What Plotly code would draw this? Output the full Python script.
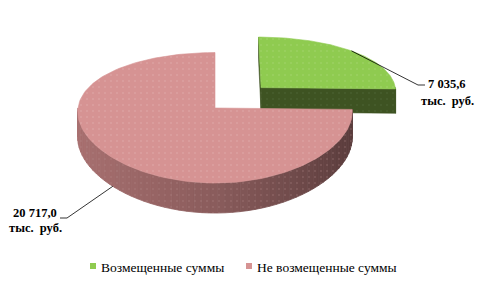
import math
import plotly.graph_objects as go

# ---- data ----
categories = ["Возмещенные суммы", "Не возмещенные суммы"]
values = [7035.6, 20717.0]
unit_label = "тыс.  руб."

# ---- styles ----
top_colors = ["#8FCB50", "#D69393"]
dot_colors = ["#B4DD8C", "#E8BDBC"]
cut_colors = ["#3E5322", "#6A4545"]
wall_dots = ["#5E7446", "#B58C8C"]
wall_stops = {0: [(0.0, "#4A6329"), (1.0, "#3E5322")],
              1: [(0.0, "#A87070"), (0.5, "#8A5C5C"), (1.0, "#5A3C3C")]}
explode = [0.48, 0.0]
W, H = 478, 287
SERIF = "Liberation Serif, Times New Roman, serif"

# projection (pixel space) for a tilted 3D pie
CX, CY, AX, BZ, TH, K, KX = 215.0, 133.5, 137.0, 67.6, 25.5, 0.15, 0.06


def proj(X, Z, Y):
    return CX + AX * X / (1 + KX * Z), CY - (BZ * Z + TH * Y) / (1 + K * Z)


def hex2rgb(h):
    h = h.lstrip("#")
    return [int(h[i:i + 2], 16) for i in (0, 2, 4)]


def grad(stops, t):
    for (t0, c0), (t1, c1) in zip(stops[:-1], stops[1:]):
        if t <= t1 or (t1 == stops[-1][0]):
            u = 0 if t1 == t0 else min(max((t - t0) / (t1 - t0), 0), 1)
            a, b = hex2rgb(c0), hex2rgb(c1)
            return "rgb(%d,%d,%d)" % tuple(round(a[i] + (b[i] - a[i]) * u) for i in range(3))
    return stops[-1][1]


def fmt(v):
    return f"{v:,.1f}".replace(",", " ").replace(".", ",")


def dots(col):
    return dict(shape=".", size=6, solidity=0.06, fgcolor=col, bgcolor="rgba(0,0,0,0)")


fig = go.Figure()
total = sum(values)
slices = []
a = 90.0
for i, v in enumerate(values):
    a1 = a - 360.0 * v / total
    mid = (a + a1) / 2
    ox = explode[i] * math.cos(math.radians(mid))
    oz = explode[i] * math.sin(math.radians(mid))
    slices.append((a, a1, mid, ox, oz))
    a = a1


def arc(a0, a1, ox, oz, Y, n=120):
    pts = []
    for j in range(n + 1):
        t = math.radians(a0 + (a1 - a0) * j / n)
        pts.append(proj(ox + math.cos(t), oz + math.sin(t), Y))
    return pts


def add_poly(pts, color, dotcol=None, line_w=0.6):
    xs = [p[0] for p in pts] + [pts[0][0]]
    ys = [p[1] for p in pts] + [pts[0][1]]
    fig.add_trace(go.Scatter(x=xs, y=ys, mode="lines", fill="toself", fillcolor=color,
                             line=dict(color=color, width=line_w), hoverinfo="skip",
                             showlegend=False))
    if dotcol:
        fig.add_trace(go.Scatter(x=xs, y=ys, mode="lines", fill="toself",
                                 fillcolor="rgba(0,0,0,0)", fillpattern=dots(dotcol),
                                 line=dict(width=0), hoverinfo="skip", showlegend=False))


# draw back slice (exploded green) first, then front slice
for i in range(len(values)):
    a0, a1, mid, ox, oz = slices[i]
    # cut faces
    for ang, nrm in ((a0, a0 + 90), (a1, a1 - 90)):
        if math.sin(math.radians(nrm)) < -1e-3 or (abs(math.sin(math.radians(nrm))) < 1e-3 and math.cos(math.radians(nrm)) * ox < 0):
            c = (ox, oz)
            r = (ox + math.cos(math.radians(ang)), oz + math.sin(math.radians(ang)))
            pts = [proj(c[0], c[1], 1), proj(r[0], r[1], 1), proj(r[0], r[1], 0), proj(c[0], c[1], 0)]
            add_poly(pts, cut_colors[i], wall_dots[i])
    # outer wall, front-facing part only (sin < 0), in strips for shading
    lo, hi = min(a0, a1), max(a0, a1)
    ranges = []
    for k0 in range(-2, 2):
        s0, s1 = max(lo, -180 + 360 * k0), min(hi, 0 + 360 * k0)
        if s1 > s0:
            ranges.append((s0, s1))
    for s0, s1 in ranges:
        nstr = max(1, int((s1 - s0) / 3))
        for j in range(nstr):
            b0 = s0 + (s1 - s0) * j / nstr
            b1 = s0 + (s1 - s0) * (j + 1) / nstr
            t = (math.cos(math.radians((b0 + b1) / 2)) + 1) / 2
            col = grad(wall_stops[i], t)
            top = arc(b0, b1, ox, oz, 1, 6)
            bot = arc(b1, b0, ox, oz, 0, 6)
            add_poly(top + bot, col, None, line_w=0.8)
        top = arc(s0, s1, ox, oz, 1, 80)
        bot = arc(s1, s0, ox, oz, 0, 80)
        xs = [p[0] for p in top + bot] + [top[0][0]]
        ys = [p[1] for p in top + bot] + [top[0][1]]
        fig.add_trace(go.Scatter(x=xs, y=ys, mode="lines", fill="toself",
                                 fillcolor="rgba(0,0,0,0)", fillpattern=dots(wall_dots[i]),
                                 line=dict(width=0), hoverinfo="skip", showlegend=False))
    # top face
    pts = [proj(ox, oz, 1)] + arc(a0, a1, ox, oz, 1, 160)
    add_poly(pts, top_colors[i], dot_colors[i])

# ---- leader lines and data labels ----
label_anchor = [((418, 85), (425, 85)), ((67, 218), (60, 218))]
label_pos = [(447, 84, 101), (35, 213, 228)]
for i in range(len(values)):
    a0, a1, mid, ox, oz = slices[i]
    Y = 1 if i == 0 else 0
    sx, sy = proj(ox + math.cos(math.radians(mid)), oz + math.sin(math.radians(mid)), Y)
    (bx, by), (ex, ey) = label_anchor[i]
    fig.add_trace(go.Scatter(x=[sx, bx, ex], y=[sy, by, ey], mode="lines",
                             line=dict(color="black", width=0.8), hoverinfo="skip",
                             showlegend=False))
    lx, ly1, ly2 = label_pos[i]
    for txt, yy in ((fmt(values[i]), ly1), (unit_label, ly2)):
        fig.add_annotation(x=lx, y=yy, text="<b>%s</b>" % txt, showarrow=False,
                           xanchor="center", yanchor="middle",
                           font=dict(family=SERIF, size=12.5, color="black"))

# ---- legend ----
leg_sq = [90, 246]
for i, name in enumerate(categories):
    fig.add_shape(type="rect", x0=leg_sq[i], x1=leg_sq[i] + 6, y0=263, y1=269,
                  fillcolor=top_colors[i], line=dict(width=0))
    fig.add_annotation(x=leg_sq[i] + 9, y=267, text=name, showarrow=False,
                       xanchor="left", yanchor="middle",
                       font=dict(family=SERIF, size=13.5, color="black"))

fig.update_layout(
    width=W, height=H, margin=dict(l=0, r=0, t=0, b=0),
    paper_bgcolor="white", plot_bgcolor="white", showlegend=False,
    xaxis=dict(range=[0, W], visible=False, fixedrange=True),
    yaxis=dict(range=[H, 0], visible=False, fixedrange=True),
)
fig.write_html("out.html")
